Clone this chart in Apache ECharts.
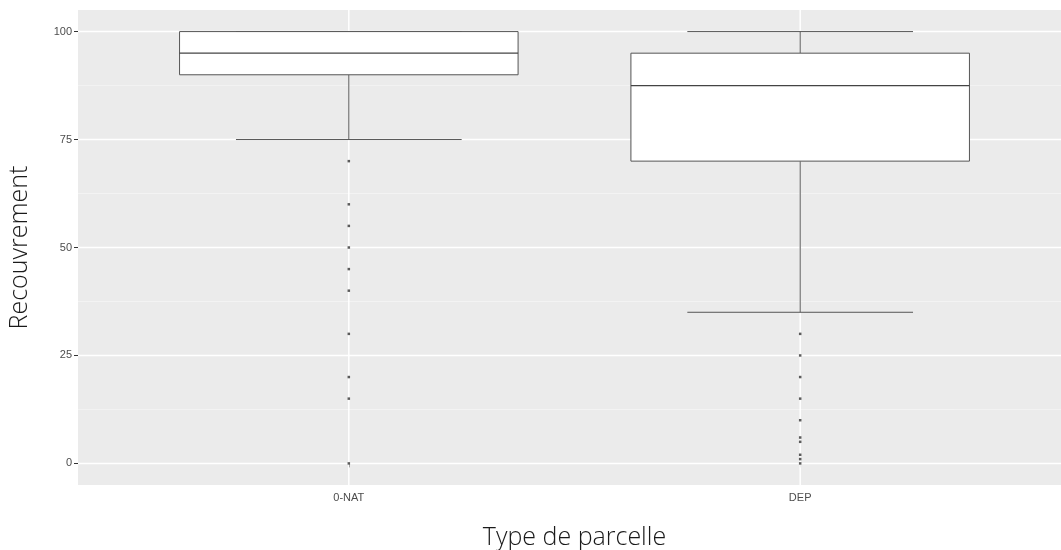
<!DOCTYPE html>
<html>
<head>
<meta charset="utf-8">
<script src="https://cdn.jsdelivr.net/npm/echarts@6/dist/echarts.min.js"></script>
<style>
html,body{margin:0;padding:0;background:#fff;overflow:hidden;}
#chart{width:1061px;height:550px;}
</style>
</head>
<body>
<div id="chart"></div>
<script>
// ---- data ----
const categories = ['0-NAT', 'DEP'];
const lowerWhisker = [75, 35];
const q1 = [90, 70];
const median = [95, 87.5];
const q3 = [100, 95];
const upperWhisker = [100, 100];
const outliersNAT = [70, 60, 55, 50, 45, 40, 30, 20, 15, 0];
const outliersDEP = [30, 25, 20, 15, 10, 6, 5, 2, 1, 0];
const yTicks = [0, 25, 50, 75, 100];
const yMinorTicks = [12.5, 37.5, 62.5, 87.5];

// ---- build ----
const boxData = categories.map((c, i) => [i + 1, lowerWhisker[i], q1[i], median[i], q3[i], upperWhisker[i]]);
const outlierData = [];
outliersNAT.forEach(v => outlierData.push([1, v]));
outliersDEP.forEach(v => outlierData.push([2, v]));
const gridData = yMinorTicks.map(v => [0, v, 0]).concat(yTicks.map(v => [0, v, 1]))
  .concat(categories.map((c, i) => [i + 1, 0, 2]));

const lineColor = '#555555';
const BOX_HALF = 0.375, CAP_HALF = 0.25;
const X_MIN = 0.4, X_MAX = 2.6, Y_MIN = -5, Y_MAX = 105;

function renderGrid(params, api) {
  const kind = api.value(2);
  if (kind === 2) {
    const x = api.value(0);
    const p1 = api.coord([x, Y_MIN]), p2 = api.coord([x, Y_MAX]);
    return {type: 'line', shape: {x1: p1[0], y1: p1[1], x2: p2[0], y2: p2[1]},
      style: {stroke: '#FFFFFF', lineWidth: 1.5}};
  }
  const y = api.value(1);
  const p1 = api.coord([X_MIN, y]), p2 = api.coord([X_MAX, y]);
  return {type: 'line', shape: {x1: p1[0], y1: p1[1], x2: p2[0], y2: p2[1]},
    style: kind === 1 ? {stroke: '#FFFFFF', lineWidth: 1.5} : {stroke: '#F5F5F5', lineWidth: 0.8}};
}

function renderBox(params, api) {
  const x = api.value(0);
  const lo = api.value(1), a = api.value(2), m = api.value(3), b = api.value(4), hi = api.value(5);
  const pTL = api.coord([x - BOX_HALF, b]);
  const pBR = api.coord([x + BOX_HALF, a]);
  const pm1 = api.coord([x - BOX_HALF, m]);
  const pm2 = api.coord([x + BOX_HALF, m]);
  const pc = api.coord([x, 0]);
  const pHi = api.coord([x, hi]);
  const pLo = api.coord([x, lo]);
  const cHi1 = api.coord([x - CAP_HALF, hi]), cHi2 = api.coord([x + CAP_HALF, hi]);
  const cLo1 = api.coord([x - CAP_HALF, lo]), cLo2 = api.coord([x + CAP_HALF, lo]);
  const st = {stroke: lineColor, lineWidth: 1, fill: null};
  return {
    type: 'group',
    children: [
      {type: 'line', shape: {x1: pc[0], y1: pTL[1], x2: pc[0], y2: pHi[1]}, style: st},
      {type: 'line', shape: {x1: pc[0], y1: pBR[1], x2: pc[0], y2: pLo[1]}, style: st},
      {type: 'line', shape: {x1: cHi1[0], y1: cHi1[1], x2: cHi2[0], y2: cHi2[1]}, style: st},
      {type: 'line', shape: {x1: cLo1[0], y1: cLo1[1], x2: cLo2[0], y2: cLo2[1]}, style: st},
      {type: 'rect', shape: {x: pTL[0], y: pTL[1], width: pBR[0] - pTL[0], height: pBR[1] - pTL[1]},
        style: {fill: '#ffffff', stroke: lineColor, lineWidth: 1}},
      {type: 'line', shape: {x1: pm1[0], y1: pm1[1], x2: pm2[0], y2: pm2[1]}, style: {stroke: '#444444', lineWidth: 1.2}}
    ]
  };
}

const chart = echarts.init(document.getElementById('chart'), null, {renderer: 'canvas'});
const option = {
  animation: false,
  backgroundColor: '#ffffff',
  grid: {
    left: 78, top: 10, width: 993, height: 475,
    show: true, backgroundColor: '#EBEBEB', borderWidth: 0,
    containLabel: false, outerBoundsMode: 'none'
  },
  xAxis: {
    type: 'value', min: X_MIN, max: X_MAX,
    name: 'Type de parcelle', nameLocation: 'middle', nameGap: 40,
    nameTextStyle: {fontFamily: 'Open Sans', fontSize: 25, color: '#1a1a1a', fontWeight: 300},
    axisLine: {show: false},
    axisTick: {show: true, customValues: [1, 2], length: 4, lineStyle: {color: '#333333'}},
    axisLabel: {
      customValues: [1, 2], color: '#4D4D4D', fontFamily: 'Liberation Sans', fontSize: 11, margin: 7,
      formatter: v => categories[Math.round(v) - 1] || ''
    },
    splitLine: {show: false}
  },
  yAxis: {
    type: 'value', min: Y_MIN, max: Y_MAX,
    name: 'Recouvrement', nameLocation: 'middle', nameGap: 46,
    nameTextStyle: {fontFamily: 'Open Sans', fontSize: 25, color: '#1a1a1a', fontWeight: 300},
    axisLine: {show: false},
    axisTick: {show: true, customValues: yTicks, length: 4, lineStyle: {color: '#333333'}},
    axisLabel: {customValues: yTicks, color: '#4D4D4D', fontFamily: 'Liberation Sans', fontSize: 11, margin: 6},
    splitLine: {show: false}
  },
  series: [
    {type: 'custom', z: 1, silent: true, data: gridData, renderItem: renderGrid, clip: true},
    {type: 'custom', z: 3, data: boxData, renderItem: renderBox, encode: {x: 0, y: [1, 2, 3, 4, 5]}},
    {type: 'scatter', z: 4, data: outlierData, symbol: 'rect', symbolSize: 2.5, itemStyle: {color: '#333333'}}
  ]
};
chart.setOption(option);
</script>
</body>
</html>
